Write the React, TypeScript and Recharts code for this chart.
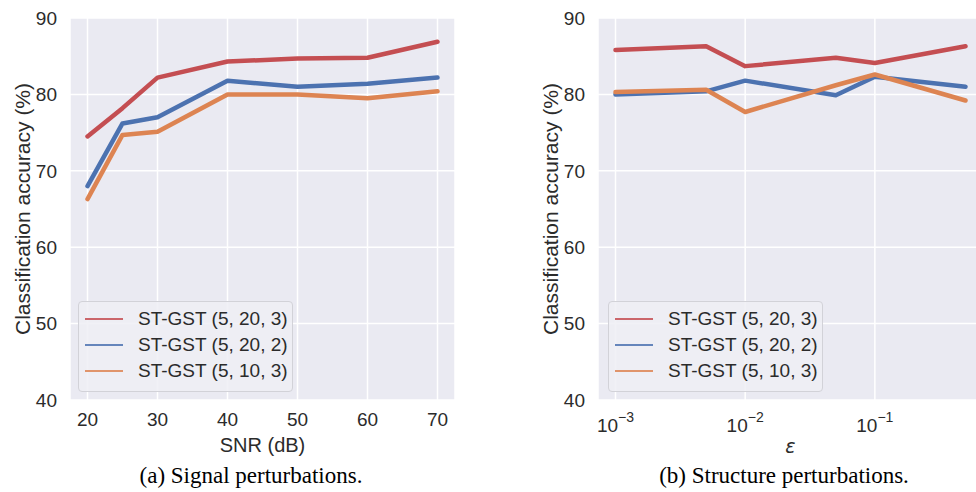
import { LineChart, Line, XAxis, YAxis, CartesianGrid, Legend } from "recharts";

const FONT = "'Liberation Sans', Arial, sans-serif";
const INK = "#2b2b2b";

// (a) signal perturbations
const snr = [20, 25, 30, 40, 50, 60, 70];
const snrA = [74.5, 78.2, 82.2, 84.3, 84.7, 84.8, 86.9];
const snrB = [68.0, 76.2, 77.0, 81.8, 81.0, 81.4, 82.2];
const snrC = [66.3, 74.7, 75.1, 80.0, 80.0, 79.5, 80.4];

// (b) structure perturbations
const eps = [0.001, 0.005, 0.01, 0.05, 0.1, 0.5];
const epsA = [85.8, 86.3, 83.7, 84.8, 84.1, 86.3];
const epsB = [80.0, 80.4, 81.8, 79.9, 82.3, 81.0];
const epsC = [80.3, 80.6, 77.7, 81.2, 82.6, 79.2];

const seriesNames = ["ST-GST (5, 20, 3)", "ST-GST (5, 20, 2)", "ST-GST (5, 10, 3)"];
const seriesKeys = ["a", "b", "c"];
const seriesColors = ["#C44E52", "#4C72B0", "#DD8452"];

const yTicks = [40, 50, 60, 70, 80, 90];
const snrTicks = [20, 30, 40, 50, 60, 70];
const epsTicks = [0.001, 0.01, 0.1];

const snrData = snr.map((x, i) => ({ x, a: snrA[i], b: snrB[i], c: snrC[i] }));
const epsData = eps.map((x, i) => ({ x, a: epsA[i], b: epsB[i], c: epsC[i] }));

// matplotlib-like 5% margins
const snrPad = (snr[snr.length - 1] - snr[0]) * 0.05;
const snrDomain = [snr[0] - snrPad, snr[snr.length - 1] + snrPad];
const lgLo = Math.log10(eps[0]);
const lgHi = Math.log10(eps[eps.length - 1]);
const lgPad = (lgHi - lgLo) * 0.05;
const epsDomain = [Math.pow(10, lgLo - lgPad), Math.pow(10, lgHi + lgPad)];

const tickStyle = { fontSize: 19, fill: INK, fontFamily: FONT };

function EpsTick(props: any) {
  const { x, y, payload } = props;
  const exp = Math.round(Math.log10(payload.value));
  return (
    <text x={x} y={y + 19} textAnchor="middle" fontSize={19} fill={INK} fontFamily={FONT}>
      <tspan>10</tspan>
      <tspan dy={-10} fontSize={14}>{"\u2212" + Math.abs(exp)}</tspan>
    </text>
  );
}

const yTitle = (props: any) => {
  const vb = props.viewBox;
  const cx = vb.x + vb.width - 48;
  const cy = vb.y + vb.height / 2;
  return (
    <text
      x={cx}
      y={cy}
      transform={`rotate(-90 ${cx} ${cy})`}
      textAnchor="middle"
      dominantBaseline="central"
      fontSize={21}
      fill={INK}
      fontFamily={FONT}
    >
      Classification accuracy (%)
    </text>
  );
};

const xTitle = (text: string, italic: boolean) => (props: any) => {
  const vb = props.viewBox;
  return (
    <text
      x={vb.x + vb.width / 2}
      y={vb.y + (italic ? 53 : 52)}
      textAnchor="middle"
      fontSize={italic ? 19 : 20}
      fill={INK}
      fontFamily={italic ? "'DejaVu Sans', sans-serif" : FONT}
      fontStyle={italic ? "italic" : "normal"}
    >
      {text}
    </text>
  );
};

function LegendBox() {
  return (
    <div
      style={{
        width: 215,
        height: 91,
        boxSizing: "border-box",
        background: "rgba(238,238,244,0.85)",
        border: "1px solid #d2d2d8",
        borderRadius: 4,
        paddingTop: 4,
        fontFamily: FONT,
        fontSize: 19,
        color: INK,
      }}
    >
      {seriesNames.map((n, i) => (
        <div key={n} style={{ display: "flex", alignItems: "center", height: 26 }}>
          <span
            style={{
              display: "inline-block",
              width: 38,
              height: 2,
              background: seriesColors[i],
              opacity: 0.85,
              marginLeft: 6,
              marginRight: 15,
            }}
          />
          <span>{n}</span>
        </div>
      ))}
    </div>
  );
}

function Panel({ left, data, log }: { left: number; data: any[]; log: boolean }) {
  return (
    <div style={{ position: "absolute", left, top: 0 }}>
      <LineChart width={480} height={492} data={data} margin={{ top: 18, right: 25, bottom: 62, left: 20 }}>
        <CartesianGrid fill="#EAEAF2" stroke="#ffffff" strokeWidth={1.5} />
        {log ? (
          <XAxis
            dataKey="x"
            type="number"
            scale="log"
            domain={epsDomain}
            allowDataOverflow
            ticks={epsTicks}
            tick={<EpsTick />}
            tickLine={false}
            axisLine={false}
            tickMargin={7}
            height={30}
            label={xTitle("\u03B5", true)}
          />
        ) : (
          <XAxis
            dataKey="x"
            type="number"
            domain={snrDomain}
            allowDataOverflow
            ticks={snrTicks}
            tick={tickStyle}
            tickLine={false}
            axisLine={false}
            tickMargin={7}
            height={30}
            label={xTitle("SNR (dB)", false)}
          />
        )}
        <YAxis
          type="number"
          domain={[40, 90]}
          ticks={yTicks}
          tick={tickStyle}
          tickLine={false}
          axisLine={false}
          tickMargin={7}
          width={50}
          label={yTitle}
        />
        <Legend
          layout="vertical"
          align="center"
          verticalAlign="middle"
          content={() => <LegendBox />}
          wrapperStyle={{ left: log ? 80 : 78, top: 301, width: 215 }}
        />
        {seriesKeys.map((k, i) => (
          <Line
            key={k}
            type="linear"
            dataKey={k}
            name={seriesNames[i]}
            stroke={seriesColors[i]}
            strokeWidth={4.5}
            strokeLinecap="round"
            strokeLinejoin="round"
            dot={false}
            activeDot={false}
            isAnimationActive={false}
          />
        ))}
      </LineChart>
    </div>
  );
}

const captionStyle = {
  position: "absolute" as const,
  top: 464,
  width: 480,
  textAlign: "center" as const,
  fontFamily: "'Liberation Serif', 'Times New Roman', serif",
  fontSize: 23,
  lineHeight: "23px",
  color: "#000",
};

export default function App() {
  return (
    <div
      style={{
        position: "absolute",
        left: 0,
        top: 0,
        width: 976,
        height: 492,
        overflow: "hidden",
        background: "#fff",
      }}
    >
      <Panel left={0} data={snrData} log={false} />
      <Panel left={528} data={epsData} log={true} />
      <div style={{ ...captionStyle, left: 11 }}>(a) Signal perturbations.</div>
      <div style={{ ...captionStyle, left: 544 }}>(b) Structure perturbations.</div>
    </div>
  );
}
